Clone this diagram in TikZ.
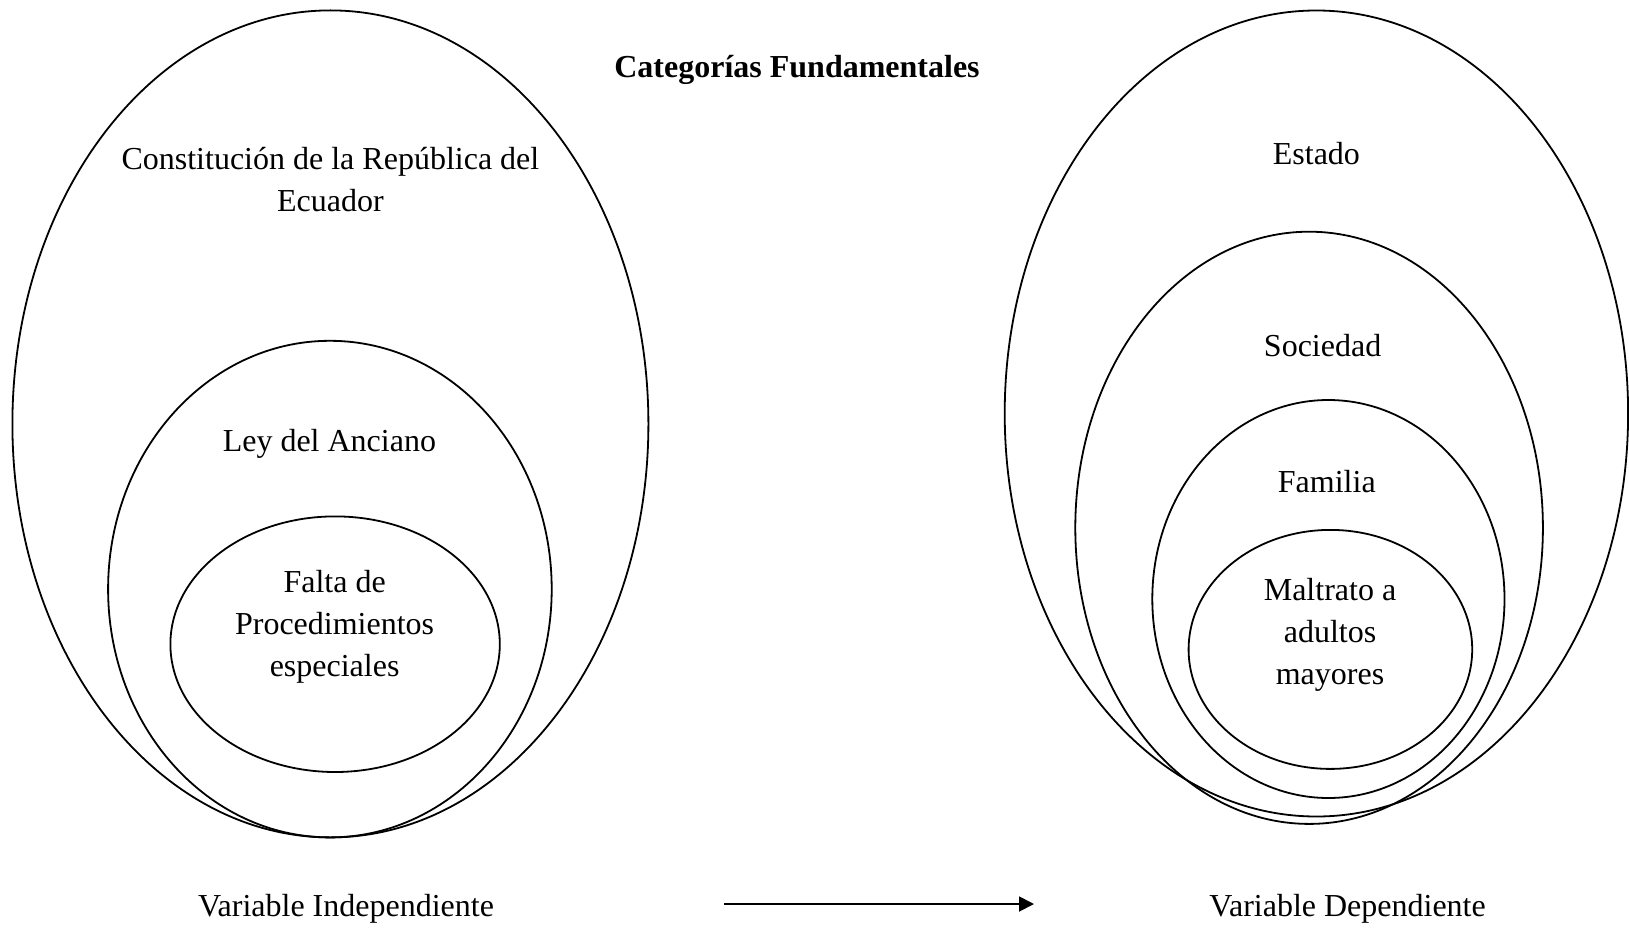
\documentclass[tikz,border=0pt]{standalone}
\usepackage{fontspec}
\setmainfont{Liberation Serif}
\usetikzlibrary{shapes.geometric,arrows.meta}
\begin{document}
\begin{tikzpicture}[x=1pt, y=-1pt, line width=1.8pt, >={Triangle[length=15pt,width=15pt]}, font=\fontsize{32}{42}\selectfont,
  elipse/.style={draw, ellipse, inner sep=0pt},
  texto/.style={anchor=base, align=center, inner sep=0pt}]
 \useasboundingbox (0,0) rectangle (1629,928);
 % conjuntos de la variable independiente y de la dependiente
 \foreach \nombre/\x/\y/\w/\h in {constitucion/330.4/423.9/636/827, ley/329.9/589.1/443.6/496.6, falta/335.1/644.2/329.4/255.6,
   estado/1316.4/413.5/623.4/806, sociedad/1309.1/527.8/467.6/592.2, familia/1328.4/599/352.2/398, maltrato/1330.4/649.4/283.6/239}
   \node[elipse, minimum width=\w, minimum height=\h] (\nombre) at (\x,\y) {};
 \node[texto, font=\fontsize{32}{42}\selectfont\bfseries] (titulo) at (797,78) {Categorías Fundamentales};
 % base = linea de base de la ultima linea
 \node[texto] (tconst) at (330.4,211.5) {Constitución de la República del\\Ecuador};
 \node[texto] (tley) at (329.4,451) {Ley del Anciano};
 \node[texto] (tfalta) at (334.6,676.3) {Falta de\\Procedimientos\\especiales};
 \node[texto] (testado) at (1316.4,164.3) {Estado};
 \node[texto] (tsociedad) at (1322.6,356.5) {Sociedad};
 \node[texto] (tfamilia) at (1326.8,492.5) {Familia};
 \node[texto] (tmaltrato) at (1330,684.5) {Maltrato a\\adultos\\mayores};
 \node[texto] (vind) at (346,916.5) {Variable Independiente};
 \node[texto] (vdep) at (1347.6,916.5) {Variable Dependiente};
 \coordinate (inicio) at (724,904); \coordinate (fin) at (1034,904);
 \draw[->] (inicio)--(fin);
\end{tikzpicture}
\end{document}
